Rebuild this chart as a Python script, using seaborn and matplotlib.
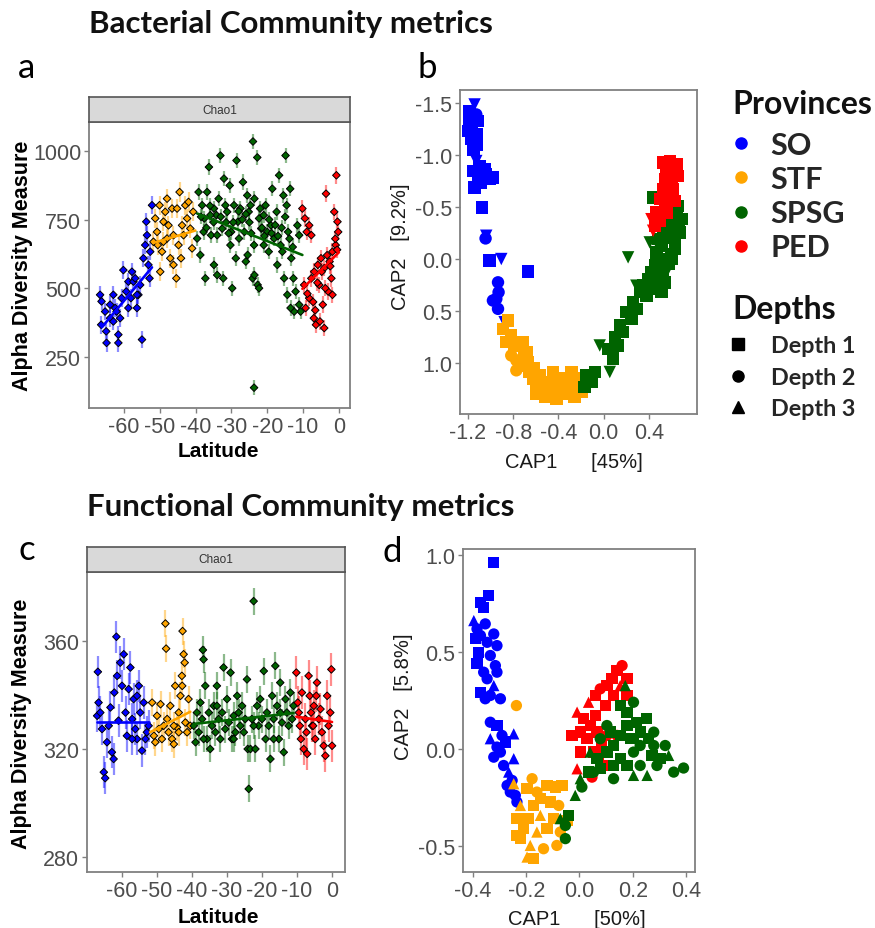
import numpy as np
import pandas as pd
import matplotlib
matplotlib.use("Agg")
import matplotlib.pyplot as plt
import seaborn as sns
from matplotlib.lines import Line2D

# ---------------- data ----------------
provinces = ["SO", "STF", "SPSG", "PED"]
colors = ["#0000FF", "#FFA500", "#006400", "#FF0000"]
depth_labels = ["Depth 1", "Depth 2", "Depth 3"]

# panel a : bacterial Chao1 vs latitude
a_lat_so = [-66.7,-66.3,-66.4,-65.0,-64.9,-63.9,-63.0,-62.5,-62.1,-61.6,-61.6,-61.1,-60.2,-59.4,-58.8,-58.1,-57.4,-56.9,-56.4,-56.0,-55.5,-55.0,-54.6,-54.1,-53.8,-53.2,-52.2,-53.6,-52.7,-63.9,-65.3,-60.7,-57.8,-56.4,-63.0,-58.8,-52.9]
a_val_so = [476,452,367,343,301,391,476,428,415,301,331,391,566,488,524,464,524,536,428,476,512,313,609,657,742,585,802,693,633,440,415,464,560,476,379,428,536]
a_lat_stf = [-51.8,-51.3,-50.8,-50.1,-49.9,-49.4,-49.0,-48.5,-48.0,-47.6,-47.1,-46.6,-46.2,-45.4,-45.2,-44.8,-44.5,-43.8,-43.4,-42.9,-42.4,-42.0,-41.5,-41.0,-40.7,-50.6,-48.0,-44.1,-46.2,-49.0]
a_val_stf = [669,754,705,802,560,633,742,778,681,729,609,790,693,536,790,657,850,729,693,802,754,814,717,645,778,657,826,609,585,669]
a_lat_spsg = [-39.2,-38.2,-37.6,-36.8,-36.3,-35.7,-34.9,-34.2,-33.6,-33.1,-32.6,-32.1,-31.7,-31.2,-30.5,-30.1,-29.3,-28.6,-28.2,-27.5,-26.8,-26.4,-25.6,-25.2,-24.7,-24.0,-23.6,-22.8,-22.3,-21.7,-21.0,-20.5,-20.0,-19.0,-18.6,-18.1,-17.4,-16.7,-16.3,-15.5,-14.9,-14.6,-14.2,-13.6,-13.3,-12.7,-12.1,-11.6,-11.1,-10.7,-11.1,-12.5,-13.5,-14.4,
              -38.7,-37.3,-34.9,-34.0,-32.3,-29.8,-28.8,-26.0,-25.5,-24.1,-23.6,-22.7,-22.3,-17.2,-15.8,-15.3,
              -39.6,-37.8,-35.9,-34.0,-30.3,-27.9,-23.7,-21.0,-19.6,-23.7,
              -38.5,-37.0,-36.0,-35.0,-33.0,-31.5,-30.8,-29.5,-28.0,-27.0,-26.0,-25.0,-24.5,-22.0,-21.5,-20.8,-19.5,-18.8,-17.8,-17.0,-16.0,-15.0,-13.8,-12.9]
a_val_spsg = [850,802,754,850,941,693,790,766,826,983,717,899,802,778,874,705,802,965,742,790,886,705,838,778,802,1034,826,976,754,717,766,802,705,729,862,681,778,911,657,838,983,802,705,862,609,536,488,729,440,415,693,415,428,476,
              621,536,585,548,536,500,609,597,621,536,548,512,500,585,633,536,
              681,705,766,693,657,681,657,657,633,138,
              760,720,800,740,760,740,700,740,780,750,770,740,700,790,720,690,750,700,730,690,720,760,680,650]
a_lat_ped = [-10.2,-9.5,-9.0,-8.3,-7.7,-9.7,-9.3,-8.3,-7.7,-7.0,-6.4,-5.9,-5.5,-5.0,-4.5,-4.1,-3.6,-3.0,-2.6,-2.1,-1.8,-1.3,-0.9,-0.4,-0.7,-0.2,-6.9,-4.1,-5.3,-1.8,
             -8.8,-7.2,-6.0,-4.8,-3.3,-2.4,-1.0,-0.5,-3.8,-6.6]
a_val_ped = [790,754,705,729,693,512,428,464,536,391,367,585,512,609,440,573,844,488,597,536,476,778,657,742,911,705,560,355,379,633,
             480,450,520,560,620,580,680,640,500,420]
a_se = [32, 35, 28, 30]            # half length of error bars per province
a_fit_lat = [[-66.2,-52.2],[-51.8,-40.1],[-39.6,-10.2],[-10.2,0.0]]
a_fit_val = [[358,576],[665,710],[772,621],[498,631]]

# panel c : functional Chao1 vs latitude
c_lat_so = [-66.9,-66.7,-67.1,-66.2,-65.7,-65.2,-64.8,-64.3,-63.8,-63.3,-62.9,-62.4,-62.2,-61.6,-61.4,-61.0,-60.5,-60.0,-59.5,-59.0,-58.6,-58.1,-57.6,-57.1,-56.7,-56.2,-55.7,-55.2,-54.8,-54.3,-53.8,-53.3,-52.9,-52.4,-55.7,-57.1]
c_val_so = [348.6,337.2,332.3,333.5,327.4,311.4,309.2,322.5,328.6,335.4,318.8,316.3,340.9,361.6,347.1,330.5,352.0,343.4,355.1,333.5,324.9,342.2,350.2,331.1,338.5,327.4,323.7,343.4,333.5,319.4,337.2,323.7,326.2,328.6,339.7,323.7]
c_lat_stf = [-51.4,-50.9,-50.5,-50.0,-49.5,-49.0,-48.6,-48.1,-47.6,-47.4,-47.1,-46.7,-46.2,-45.7,-45.2,-44.8,-44.3,-43.8,-43.3,-42.9,-42.7,-42.4,-42.1,-41.9,-41.4,-41.0,-40.5,-42.8,-43.8,-45.2]
c_val_stf = [337.2,324.9,322.5,332.3,327.4,336.6,323.7,328.6,366.5,357.2,331.1,326.2,336.0,323.7,321.8,343.4,328.0,333.5,339.7,347.1,363.7,355.1,352.0,329.8,326.2,338.5,328.6,343.4,326.2,328.6]
c_lat_spsg = [-39.5,-39.0,-38.6,-38.1,-37.6,-37.1,-36.9,-36.7,-36.2,-35.7,-35.2,-34.8,-34.3,-33.8,-33.3,-32.9,-32.4,-31.9,-31.4,-31.0,-30.5,-30.0,-29.5,-29.0,-28.6,-28.1,-27.6,-27.1,-26.7,-26.2,-25.7,-25.2,-24.8,-24.3,-24.1,-23.8,-23.3,-22.9,-22.4,-21.9,-21.4,-21.0,-20.5,-20.0,-19.5,-19.0,-18.6,-18.1,-17.6,-17.1,-16.7,-16.2,-15.7,-15.2,-14.8,-14.3,-13.8,-13.3,-12.9,-12.4,-11.9,-11.4,-11.0,-36.7,-28.1,-22.4,-16.7,-32.9,-14.8]
c_val_spsg = [328.6,322.5,333.5,326.2,337.2,331.1,356.7,353.2,343.4,323.7,333.5,320.0,328.6,336.0,326.2,343.4,331.1,323.7,333.5,350.2,327.4,338.5,329.8,348.3,323.7,332.3,326.2,339.7,333.5,328.6,336.0,326.2,331.1,345.8,320.0,305.2,320.0,331.1,374.8,320.0,336.0,328.6,338.5,331.1,348.9,323.7,333.5,328.6,316.3,339.7,331.1,350.8,336.0,323.7,344.6,329.8,318.8,338.5,333.5,328.6,340.9,331.1,336.0,323.7,323.7,328.6,323.7,336.0,333.5]
c_lat_ped = [-10.2,-9.8,-9.5,-9.2,-8.9,-8.6,-8.1,-7.6,-7.3,-7.1,-6.7,-6.4,-6.0,-5.7,-5.2,-4.8,-4.3,-3.8,-3.3,-2.9,-2.4,-1.9,-1.4,-1.0,-0.5,-0.2,0.0,-4.5,-5.4]
c_val_ped = [348.3,337.2,333.5,328.6,323.7,340.9,320.0,331.1,326.2,318.2,347.1,339.7,333.5,328.6,336.0,323.7,344.6,331.1,334.8,326.2,321.2,317.5,339.7,328.6,333.5,349.5,321.2,339.7,328.6]
c_se = [6, 5, 5, 6]
c_fit_lat = [[-67.1,-52.4],[-52.0,-40.5],[-39.5,-11.0],[-10.2,0.0]]
c_fit_val = [[330.1,330.1],[326.2,333.8],[329.3,333.3],[332.0,330.0]]

# panel b : bacterial CAP ordination
b_cap1_so = [-1.141,-1.185,-1.126,-1.191,-1.112,-1.162,-1.200,-1.120,-1.171,-1.126,-1.150,-1.126,-1.097,-1.156,-1.053,-1.112,-1.008,-1.082,-1.141,-0.979,-1.038,-1.073,-1.038,-1.044,-1.008,-0.905,-0.669,-0.934,-0.929,-0.949,-0.979,-0.934,-0.876]
b_cap2_so = [-1.486,-1.422,-1.390,-1.342,-1.326,-1.278,-1.230,-1.198,-1.157,-1.102,-1.054,-0.942,-0.895,-0.847,-0.863,-0.799,-0.767,-0.735,-0.687,-0.783,-0.815,-0.495,-0.224,-0.198,0.016,0.0,0.121,0.224,0.319,0.383,0.399,0.479,0.607]
b_dep_so = [3,1,2,1,1,1,1,1,1,1,1,3,1,1,1,1,1,1,1,1,1,1,3,2,1,3,1,2,2,2,2,2,3]
b_cap1_stf = [-0.846,-0.890,-0.817,-0.861,-0.788,-0.817,-0.772,-0.713,-0.684,-0.728,-0.654,-0.625,-0.566,-0.595,-0.507,-0.477,-0.448,-0.389,-0.359,-0.330,-0.286,-0.241,-0.197,-0.168,-0.256,-0.418,-0.536,-0.772,-0.669,
              -0.60,-0.52,-0.45,-0.40,-0.33,-0.70,-0.62,-0.30,-0.22]
b_cap2_stf = [0.591,0.671,0.735,0.799,0.831,0.927,0.974,0.799,0.895,1.022,1.086,1.150,1.118,1.230,1.182,1.278,1.086,1.150,1.294,1.214,1.086,1.150,1.278,1.214,1.326,1.342,1.262,1.070,0.990,
              1.30,1.32,1.20,1.25,1.16,0.95,1.05,1.30,1.22]
b_dep_stf = [1,1,1,1,1,2,2,1,1,1,1,1,1,1,1,1,1,1,1,1,1,1,1,1,1,1,1,2,1, 1,1,1,1,1,1,1,1,1]
b_cap1_spsg = [-0.153,-0.109,-0.079,-0.168,-0.035,0.039,0.054,0.083,0.098,0.127,0.142,0.172,0.201,0.216,0.245,0.260,0.289,0.289,0.319,0.348,0.378,0.393,0.422,0.437,0.452,0.466,0.496,0.481,0.511,0.525,0.555,0.570,0.584,0.614,0.643,0.658,0.688,0.673,0.628,0.599,0.555,0.540,0.511,0.437,0.407,0.466,
               0.60,0.62,0.65,0.58,0.52,0.48,0.66,0.63,0.57,0.50]
b_cap2_spsg = [1.118,1.182,1.086,1.230,0.831,0.863,1.086,0.958,0.751,0.831,0.639,0.703,0.511,-0.016,0.575,0.415,0.479,0.256,0.319,0.256,0.351,0.192,0.128,0.288,0.064,-0.064,0.0,-0.192,-0.128,-0.288,-0.224,-0.383,-0.319,-0.447,-0.351,-0.511,-0.383,-0.256,-0.128,0.0,0.128,0.224,0.319,-0.591,-0.160,-0.160,
               -0.05,-0.20,-0.45,0.05,0.15,0.20,-0.30,-0.10,-0.35,0.10]
b_dep_spsg = [1,1,1,1,3,1,3,1,1,1,1,1,1,3,1,1,1,3,1,1,1,1,1,1,1,1,1,1,1,1,1,1,1,1,1,1,1,1,1,1,3,1,1,1,3,3, 1,1,1,1,1,1,1,1,1,1]
b_cap1_ped = [0.525,0.584,0.643,0.555,0.614,0.658,0.540,0.599,0.525,0.584,0.628,0.496,0.540,0.466,0.422,0.452,0.496,0.437,0.555,0.614]
b_cap2_ped = [-0.927,-0.942,-0.911,-0.863,-0.831,-0.799,-0.767,-0.735,-0.671,-0.607,-0.559,-0.575,-0.495,-0.447,-0.383,-0.319,-0.367,-0.272,-0.447,-0.671]
b_dep_ped = [1,1,1,1,1,1,1,1,1,1,1,1,1,1,3,1,1,3,1,1]

# panel d : functional CAP ordination
d_cap1_so = [-0.322,-0.341,-0.372,-0.360,-0.397,-0.354,-0.385,-0.372,-0.322,-0.391,-0.347,-0.310,-0.379,-0.335,-0.385,-0.316,-0.360,-0.310,-0.347,-0.322,-0.372,-0.335,-0.297,-0.354,-0.335,-0.310,-0.247,-0.335,-0.291,-0.278,-0.310,-0.322,-0.297,-0.247,-0.285,-0.266,-0.253,-0.272,-0.241,-0.235,-0.260]
d_cap2_so = [0.962,0.791,0.756,0.731,0.662,0.645,0.619,0.585,0.593,0.568,0.550,0.533,0.499,0.482,0.439,0.430,0.396,0.396,0.362,0.327,0.293,0.276,0.259,0.259,0.138,0.121,0.078,0.053,0.070,0.036,0.010,-0.042,-0.016,-0.050,-0.085,-0.119,-0.162,-0.188,-0.239,-0.273,-0.222]
d_dep_so = [1,1,1,1,3,2,2,2,2,1,2,2,1,2,1,2,2,2,2,3,1,2,2,2,2,1,3,3,2,1,2,2,2,3,2,3,2,2,2,2,2]
d_cap1_stf = [-0.237,-0.247,-0.178,-0.197,-0.160,-0.122,-0.091,-0.066,-0.147,-0.222,-0.172,-0.110,-0.078,-0.235,-0.191,-0.147,-0.097,-0.047,-0.210,-0.160,-0.122,-0.072,-0.222,-0.185,-0.135,-0.085,-0.197,-0.172,-0.235]
d_cap2_stf = [0.224,-0.179,-0.153,-0.205,-0.222,-0.188,-0.196,-0.188,-0.256,-0.291,-0.291,-0.273,-0.291,-0.359,-0.359,-0.342,-0.359,-0.368,-0.411,-0.428,-0.411,-0.428,-0.462,-0.497,-0.514,-0.497,-0.557,-0.565,-0.445]
d_dep_stf = [2,3,2,1,2,1,1,1,1,3,1,1,2,1,1,3,1,1,1,3,1,2,1,3,2,2,3,1,1]
d_cap1_spsg = [-0.053,-0.072,-0.041,-0.053,-0.016,0.009,0.003,0.034,0.040,0.066,0.078,0.103,0.128,0.153,0.172,0.178,0.203,0.215,0.191,0.228,0.253,0.259,0.272,0.279,0.304,0.322,0.335,0.354,0.391,0.254,0.203,0.128,0.178,0.153,0.203,0.128,0.116,0.178,0.153,0.203,0.228,0.291,0.078,0.053,0.103,0.228,0.279]
d_cap2_spsg = [-0.462,-0.359,-0.342,-0.394,-0.239,-0.196,-0.153,-0.119,-0.016,-0.050,0.053,0.121,0.018,0.070,0.327,0.190,0.241,0.138,0.053,0.018,0.156,0.053,-0.033,0.018,-0.050,0.018,-0.033,-0.119,-0.098,-0.136,-0.136,-0.153,-0.085,-0.050,-0.016,-0.085,0.087,0.121,0.224,0.053,-0.085,-0.085,-0.102,-0.119,-0.016,0.087,0.087]
d_dep_spsg = [2,3,1,2,3,2,3,1,3,1,2,2,1,1,3,1,2,1,1,2,1,1,1,2,1,2,3,2,2,3,3,2,1,1,2,1,1,1,1,1,2,2,1,2,1,1,2]
d_cap1_ped = [0.160,0.141,0.122,0.178,0.103,0.128,0.078,0.059,0.034,0.097,0.059,-0.009,0.016,0.041,-0.028,0.003,0.028,0.066,0.103,0.141,0.084,0.053,0.003,-0.009,0.091,0.047,0.072,0.178,0.153]
d_cap2_ped = [0.430,0.404,0.362,0.362,0.327,0.276,0.310,0.276,0.241,0.224,0.173,0.190,0.156,0.121,0.070,0.087,0.053,0.087,0.070,0.070,0.018,-0.016,-0.016,-0.102,-0.085,-0.145,-0.033,0.276,0.327]
d_dep_ped = [2,1,1,1,1,1,2,1,3,1,1,3,1,1,1,1,1,1,2,2,1,1,1,3,1,2,1,1,3]

# ---------------- tables ----------------
pal = dict(zip(provinces, colors))

def alpha_table(lats, vals):
    return pd.concat([pd.DataFrame({"Latitude": la, "Chao1": va, "Province": p})
                      for p, la, va in zip(provinces, lats, vals)], ignore_index=True)

def cap_table(c1s, c2s, deps, order):
    parts = {p: pd.DataFrame({"CAP1": c1, "CAP2": c2, "Depth": dp, "Province": p})
             for p, c1, c2, dp in zip(provinces, c1s, c2s, deps)}
    return pd.concat([parts[p] for p in order], ignore_index=True)

df_a = alpha_table([a_lat_so, a_lat_stf, a_lat_spsg, a_lat_ped], [a_val_so, a_val_stf, a_val_spsg, a_val_ped])
df_c = alpha_table([c_lat_so, c_lat_stf, c_lat_spsg, c_lat_ped], [c_val_so, c_val_stf, c_val_spsg, c_val_ped])
df_b = cap_table([b_cap1_so, b_cap1_stf, b_cap1_spsg, b_cap1_ped], [b_cap2_so, b_cap2_stf, b_cap2_spsg, b_cap2_ped],
                 [b_dep_so, b_dep_stf, b_dep_spsg, b_dep_ped], ["SO", "STF", "SPSG", "PED"])
df_d = cap_table([d_cap1_so, d_cap1_stf, d_cap1_spsg, d_cap1_ped], [d_cap2_so, d_cap2_stf, d_cap2_spsg, d_cap2_ped],
                 [d_dep_so, d_dep_stf, d_dep_spsg, d_dep_ped], ["SO", "STF", "PED", "SPSG"])

# ---------------- figure ----------------
sns.set_theme(style="white")
plt.rcParams["font.family"] = ["Liberation Sans", "DejaVu Sans"]
plt.rcParams["axes.unicode_minus"] = False

W, H = 875, 929
fig = plt.figure(figsize=(W / 100, H / 100), dpi=100)
fig.patch.set_facecolor("white")

def px_axes(l, t, r, b):
    return fig.add_axes([l / W, 1 - b / H, (r - l) / W, (b - t) / H])

TICK_GRAY = "#4D4D4D"
BORDER = "#808080"

def frame(ax):
    for sp in ax.spines.values():
        sp.set_visible(True)
        sp.set_color(BORDER)
        sp.set_linewidth(1.3)
    ax.tick_params(axis="both", which="both", direction="out", length=3.5, width=1.0,
                   color=BORDER, labelsize=15.5, labelcolor=TICK_GRAY, pad=2,
                   bottom=True, left=True, top=False, right=False)
    ax.grid(False)
    ax.set_facecolor("white")

def strip(l, t, r, b):
    s = px_axes(l, t, r, b)
    s.set_facecolor("#D9D9D9")
    s.set_xticks([]); s.set_yticks([])
    for sp in s.spines.values():
        sp.set_visible(True); sp.set_color("#555555"); sp.set_linewidth(1.2)
    s.text(0.5, 0.5, "Chao1", ha="center", va="center", fontsize=8.5, color="#333333",
           transform=s.transAxes)

def alpha_panel(ax, df, se, fit_lat, fit_val, xlim, ylim, yticks):
    for p, e in zip(provinces, se):
        sub = df[df["Province"] == p]
        ax.vlines(sub["Latitude"], sub["Chao1"] - e, sub["Chao1"] + e, color=pal[p],
                  alpha=0.45, lw=1.6, zorder=2)
    sns.scatterplot(data=df, x="Latitude", y="Chao1", hue="Province", palette=pal,
                    marker="D", s=15, edgecolor="black", linewidth=0.7, legend=False,
                    ax=ax, zorder=3)
    for p, fl, fv in zip(provinces, fit_lat, fit_val):
        sns.lineplot(x=fl, y=fv, color=pal[p], lw=1.9, ax=ax, zorder=4)
    frame(ax)
    ax.set_xlim(*xlim); ax.set_ylim(*ylim)
    ax.set_xticks([-60, -50, -40, -30, -20, -10, 0])
    ax.set_yticks(yticks)
    ax.set_xlabel("Latitude", fontsize=15, fontweight="bold", color="black")
    ax.set_ylabel("Alpha Diversity Measure", fontsize=15.5, fontweight="bold", color="black")

# panel a
ax_a = px_axes(89, 123, 350, 409)
alpha_panel(ax_a, df_a, a_se, a_fit_lat, a_fit_val, (-69.8, 3.1), (64, 1105), [250, 500, 750, 1000])
ax_a.yaxis.set_label_coords(-0.215, 0.50)
ax_a.xaxis.set_label_coords(0.496, -0.115)
strip(89, 98, 350, 123)

# panel c
ax_c = px_axes(87, 573, 345, 873)
alpha_panel(ax_c, df_c, c_se, c_fit_lat, c_fit_val, (-70.0, 3.7), (274.4, 385.6), [280, 320, 360])
ax_c.yaxis.set_label_coords(-0.213, 0.497)
ax_c.xaxis.set_label_coords(0.508, -0.117)
strip(87, 548, 345, 573)

CAP_FONT = 14.5

# panel b
ax_b = px_axes(460, 91, 697, 415)
sns.scatterplot(data=df_b, x="CAP1", y="CAP2", hue="Province", palette=pal, style="Depth",
                markers={1: "s", 2: "o", 3: "v"}, s=80, linewidth=0, legend=False, ax=ax_b)
frame(ax_b)
ax_b.set_xlim(-1.27, 0.825)
ax_b.set_ylim(1.49, -1.625)
ax_b.set_xticks([-1.2, -0.8, -0.4, 0.0, 0.4])
ax_b.set_xticklabels(["-1.2", "-0.8", "-0.4", "0.0", "0.4"])
ax_b.set_yticks([-1.5, -1.0, -0.5, 0.0, 0.5, 1.0])
ax_b.set_yticklabels(["-1.5", "-1.0", "-0.5", "0.0", "0.5", "1.0"])
ax_b.set_xlabel("CAP1      [45%]", fontsize=CAP_FONT, color="#1A1A1A")
ax_b.set_ylabel("CAP2   [9.2%]", fontsize=CAP_FONT, color="#1A1A1A")
ax_b.yaxis.set_label_coords(-0.21, 0.52)
ax_b.xaxis.set_label_coords(0.48, -0.117)

# panel d
ax_d = px_axes(463, 550, 695, 873)
sns.scatterplot(data=df_d, x="CAP1", y="CAP2", hue="Province", palette=pal, style="Depth",
                markers={1: "s", 2: "o", 3: "^"}, s=66, linewidth=0, legend=False, ax=ax_d)
frame(ax_d)
ax_d.set_xlim(-0.4376, 0.434)
ax_d.set_ylim(-0.634, 1.031)
ax_d.set_xticks([-0.4, -0.2, 0.0, 0.2, 0.4])
ax_d.set_xticklabels(["-0.4", "-0.2", "0.0", "0.2", "0.4"])
ax_d.set_yticks([-0.5, 0.0, 0.5, 1.0])
ax_d.set_yticklabels(["-0.5", "0.0", "0.5", "1.0"])
ax_d.set_xlabel("CAP1      [50%]", fontsize=CAP_FONT, color="#1A1A1A")
ax_d.set_ylabel("CAP2   [5.8%]", fontsize=CAP_FONT, color="#1A1A1A")
ax_d.yaxis.set_label_coords(-0.215, 0.545)
ax_d.xaxis.set_label_coords(0.49, -0.115)

# titles and panel letters
title_font = dict(family=["Lato", "DejaVu Sans"], fontweight="bold", fontsize=22.5, color="#111111")
fig.text(89 / W, 1 - 33 / H, "Bacterial Community metrics", va="baseline", **title_font)
fig.text(87 / W, 1 - 516 / H, "Functional Community metrics", va="baseline", **title_font)
letter_font = dict(family=["Lato", "DejaVu Sans"], fontsize=25, color="black", va="baseline")
fig.text(18 / W, 1 - 78 / H, "a", **letter_font)
fig.text(417 / W, 1 - 78 / H, "b", **letter_font)
fig.text(18 / W, 1 - 560 / H, "c", **letter_font)
fig.text(382 / W, 1 - 562 / H, "d", **letter_font)

# legends
leg_title_font = dict(family=["Lato", "DejaVu Sans"], fontweight="bold", fontsize=23, color="#111111")
fig.text(732 / W, 1 - 114 / H, "Provinces", va="baseline", **leg_title_font)
fig.text(732 / W, 1 - 319 / H, "Depths", va="baseline", **leg_title_font)

prov_handles = [Line2D([], [], marker="o", ls="", color=pal[p], markersize=8, label=p) for p in provinces]
depth_markers = ["s", "o", "^"]
depth_handles = [Line2D([], [], marker=m, ls="", color="black", markersize=8, label=l)
                 for m, l in zip(depth_markers, depth_labels)]
leg1 = fig.legend(handles=prov_handles, loc="upper left",
                  bbox_to_anchor=(729 / W, 1 - 132 / H), frameon=False,
                  prop=dict(family=["Lato", "DejaVu Sans"], weight="bold", size=22),
                  handlelength=0.8, handletextpad=0.55, labelspacing=0.2,
                  borderpad=0, borderaxespad=0)
leg2 = fig.legend(handles=depth_handles, loc="upper left",
                  bbox_to_anchor=(729 / W, 1 - 336 / H), frameon=False,
                  prop=dict(family=["Lato", "DejaVu Sans"], weight="bold", size=16.8),
                  handlelength=0.8, handletextpad=1.0, labelspacing=0.46,
                  borderpad=0, borderaxespad=0)

fig.savefig("out.png", dpi=100, facecolor="white")
